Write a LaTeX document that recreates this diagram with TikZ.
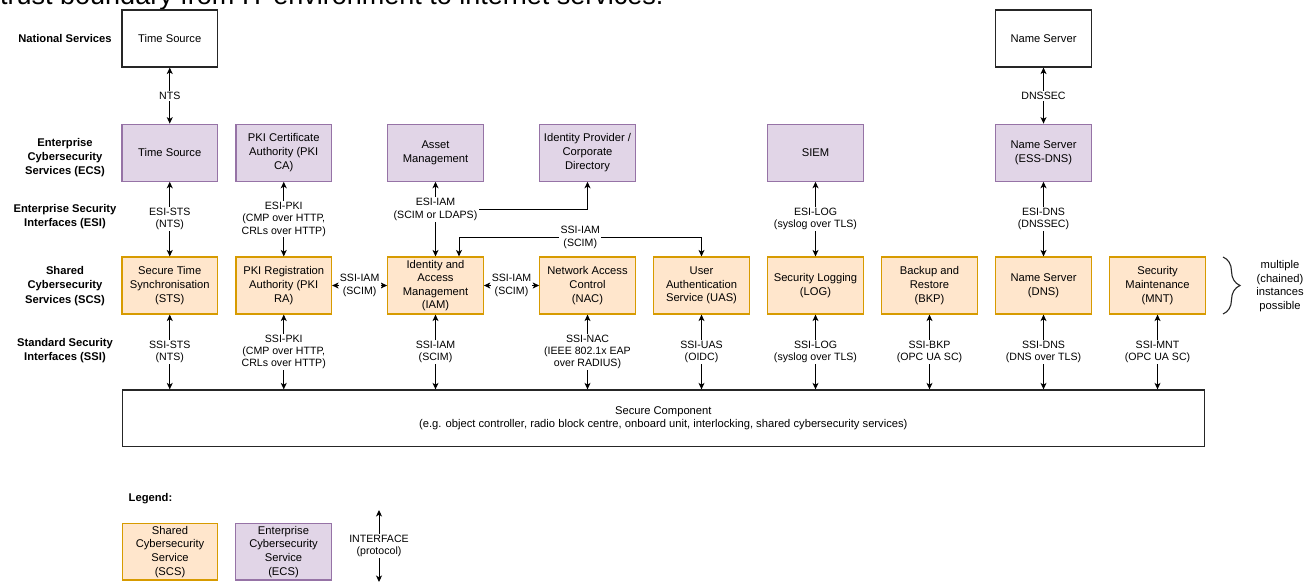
\documentclass[tikz,border=0pt]{standalone}
\usepackage{fontspec}
\setmainfont{Liberation Sans}
\usetikzlibrary{arrows.meta,decorations.pathreplacing,calc}
\definecolor{scsfill}{HTML}{FFE6CC}
\definecolor{scsdraw}{HTML}{D79B00}
\definecolor{ecsfill}{HTML}{E1D5E7}
\definecolor{ecsdraw}{HTML}{9673A6}
\newcommand\boxfont{\fontsize{11.2}{13.6}\selectfont}
\newcommand\labfont{\fontsize{10.6}{12.3}\selectfont}
\newcommand\rowfont{\fontsize{11.2}{14.2}\selectfont\bfseries}
\begin{document}
\begin{tikzpicture}[x=1pt,y=-1pt,
  box/.style={line width=1.2pt, minimum width=95.5pt, minimum height=57pt, align=center, font=\boxfont, inner sep=1pt},
  scs/.style={box, draw=scsdraw, fill=scsfill},
  ecs/.style={box, draw=ecsdraw, fill=ecsfill},
  nat/.style={box, draw=black!85, fill=white},
  lab/.style={fill=white, inner sep=1.2pt, align=center, font=\labfont},
  biarrow/.style={{Stealth[length=6.5pt,width=6pt,inset=1.8pt]}-{Stealth[length=6.5pt,width=6pt,inset=1.8pt]}, line width=1pt},
  onearrow/.style={-{Stealth[length=6.5pt,width=6pt,inset=1.8pt]}, line width=1pt},
  rowlab/.style={font=\rowfont, align=center},
  note/.style={font=\boxfont, align=center}
]
\useasboundingbox (0,0) rectangle (1314,583);

\node[anchor=base west, inner sep=0pt, font=\fontsize{27}{30}\selectfont] (title) at (0,4.5) {trust boundary from IT environment to internet services.};

% row labels
\node[rowlab] (rnat) at (65,38) {National Services};
\node[rowlab] (recs) at (65,157.5) {Enterprise\\Cybersecurity\\Services (ECS)};
\node[rowlab] (resi) at (65,216.5) {Enterprise Security\\Interfaces (ESI)};
\node[rowlab] (rscs) at (65,286) {Shared\\Cybersecurity\\Services (SCS)};
\node[rowlab] (rssi) at (65,350.3) {Standard Security\\Interfaces (SSI)};

% national services
\node[nat] (nts) at (169.75,38.5) {Time Source};
\node[nat] (nns) at (1043.5,38.5) {Name Server};

% enterprise cybersecurity services
\node[ecs] (ets) at (169.75,152.7) {Time Source};
\node[ecs] (pkica) at (283.75,152.7) {PKI Certificate\\Authority (PKI\\CA)};
\node[ecs] (asset) at (435.5,152.7) {Asset\\Management};
\node[ecs] (idp) at (587.5,152.7) {Identity Provider /\\Corporate\\Directory};
\node[ecs] (siem) at (815.5,152.7) {SIEM};
\node[ecs] (essdns) at (1043.5,152.7) {Name Server\\(ESS-DNS)};

% shared cybersecurity services
\node[scs] (sts) at (169.75,285.5) {Secure Time\\Synchronisation\\(STS)};
\node[scs] (pkira) at (283.75,285.5) {PKI Registration\\Authority (PKI\\RA)};
\node[scs] (iam) at (435.5,285.5) {Identity and\\Access\\Management\\(IAM)};
\node[scs] (nac) at (587.5,285.5) {Network Access\\Control\\(NAC)};
\node[scs] (uas) at (701.5,285.5) {User\\Authentication\\Service (UAS)};
\node[scs] (log) at (815.5,285.5) {Security Logging\\(LOG)};
\node[scs] (bkp) at (929.5,285.5) {Backup and\\Restore\\(BKP)};
\node[scs] (dns) at (1043.5,285.5) {Name Server\\(DNS)};
\node[scs] (mnt) at (1157.5,285.5) {Security\\Maintenance\\(MNT)};

% secure component
\node[draw=black!85, line width=1.2pt, minimum width=1082pt, minimum height=56.7pt, align=center, font=\boxfont] (sc) at (663.3,418.3) {Secure Component\\(e.g. object controller, radio block centre, onboard unit, interlocking, shared cybersecurity services)};

% national <-> enterprise
\draw[biarrow] (nts.south) -- node[lab]{NTS} (ets.north);
\draw[biarrow] (nns.south) -- node[lab]{DNSSEC} (essdns.north);

% ESI
\draw[biarrow] (ets.south) -- node[lab]{ESI-STS\\(NTS)} (sts.north);
\draw[biarrow] (pkica.south) -- node[lab]{ESI-PKI\\(CMP over HTTP,\\CRLs over HTTP)} (pkira.north);
\draw[biarrow] (iam.north) -- node[lab,pos=0.63] (esiiam) {ESI-IAM\\(SCIM or LDAPS)} (asset.south);
\draw[onearrow] (esiiam.east) -| (idp.south);
\draw[biarrow] (siem.south) -- node[lab]{ESI-LOG\\(syslog over TLS)} (log.north);
\draw[biarrow] (essdns.south) -- node[lab]{ESI-DNS\\(DNSSEC)} (dns.north);

% SSI-IAM between shared services
\draw[biarrow] ([xshift=23.5pt]iam.north) -- ++(0,-19) -| node[lab,pos=0.25]{SSI-IAM\\(SCIM)} (uas.north);
\draw[biarrow] (pkira.east) -- node[lab]{SSI-IAM\\(SCIM)} (iam.west);
\draw[biarrow] (iam.east) -- node[lab]{SSI-IAM\\(SCIM)} (nac.west);

% SSI
\draw[biarrow] (sts.south) -- node[lab]{SSI-STS\\(NTS)} (sts.south |- sc.north);
\draw[biarrow] (pkira.south) -- node[lab]{SSI-PKI\\(CMP over HTTP,\\CRLs over HTTP)} (pkira.south |- sc.north);
\draw[biarrow] (iam.south) -- node[lab]{SSI-IAM\\(SCIM)} (iam.south |- sc.north);
\draw[biarrow] (nac.south) -- node[lab]{SSI-NAC\\(IEEE 802.1x EAP\\over RADIUS)} (nac.south |- sc.north);
\draw[biarrow] (uas.south) -- node[lab]{SSI-UAS\\(OIDC)} (uas.south |- sc.north);
\draw[biarrow] (log.south) -- node[lab]{SSI-LOG\\(syslog over TLS)} (log.south |- sc.north);
\draw[biarrow] (bkp.south) -- node[lab]{SSI-BKP\\(OPC UA SC)} (bkp.south |- sc.north);
\draw[biarrow] (dns.south) -- node[lab]{SSI-DNS\\(DNS over TLS)} (dns.south |- sc.north);
\draw[biarrow] (mnt.south) -- node[lab]{SSI-MNT\\(OPC UA SC)} (mnt.south |- sc.north);

% brace
\draw[line width=1.1pt, black!85, decorate, decoration={brace, amplitude=17pt}] (1223,257) -- (1223,314);
\node[note] (multi) at (1280,286) {multiple\\(chained)\\instances\\possible};

% legend
\node[rowlab] (legend) at (150.5,499) {Legend:};
\node[scs, minimum height=56.7pt] (lscs) at (170,551.7) {Shared\\Cybersecurity\\Service\\(SCS)};
\node[ecs, minimum height=56.7pt] (lecs) at (283.5,551.7) {Enterprise\\Cybersecurity\\Service\\(ECS)};
\coordinate (lgt) at (379,510);
\coordinate (lgb) at (379,582);
\draw[biarrow] (lgt) -- node[lab]{INTERFACE\\(protocol)} (lgb);
\end{tikzpicture}
\end{document}
